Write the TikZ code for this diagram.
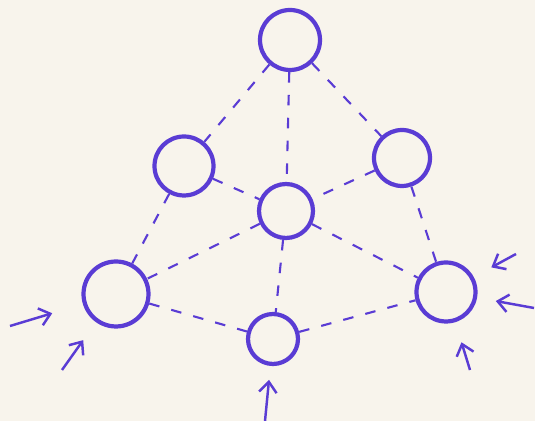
\documentclass[tikz,border=0pt]{standalone}
\usetikzlibrary{arrows.meta}
\definecolor{pen}{RGB}{90,60,212}
\definecolor{paper}{RGB}{248,244,236}
\begin{document}
\begin{tikzpicture}[x=0.02cm, y=-0.02cm,
    ball/.style={draw=pen, circle, line width=2.4pt, inner sep=0pt, minimum size=#1},
    link/.style={draw=pen, line width=1.2pt, dash pattern=on 6pt off 7pt},
    push/.style={draw=pen, line width=1.4pt, -{Straight Barb[length=6pt, width=10pt]}}]
    \fill[paper] (0,0) rectangle (535,421);
    \useasboundingbox (0,0) rectangle (535,421);

    \foreach \i/\x/\y/\d in {%
        1/290/40/1.2,
        2/184/166/1.18,
        3/402/158/1.12,
        4/286/211/1.08,
        5/116/294/1.3,
        6/446/292/1.18,
        7/273/339/1.0%
        }{
        \node[ball=\d cm] (n\i) at (\x,\y) {};
    }

    \foreach \u/\v in {%
        1/2,
        1/4,
        1/3,
        2/4,
        3/4,
        2/5,
        3/6,
        4/5,
        4/6,
        4/7,
        5/7,
        7/6%
        }{
        \draw[link] (n\u) -- (n\v);
    }

    % arrows pointing at the outer circles
    \foreach \j/\x/\y/\n/\s in {%
        1/10/326/5/0.64,
        2/62/370/5/0.44,
        3/516/254/6/0.4,
        4/534/308/6/0.38,
        5/470/370/6/0.42,
        6/265/421/7/0.28%
        }{
        \coordinate (t\j) at (\x,\y);
        \draw[push, shorten >=\s cm] (t\j) -- (n\n);
    }

\end{tikzpicture}
\end{document}
